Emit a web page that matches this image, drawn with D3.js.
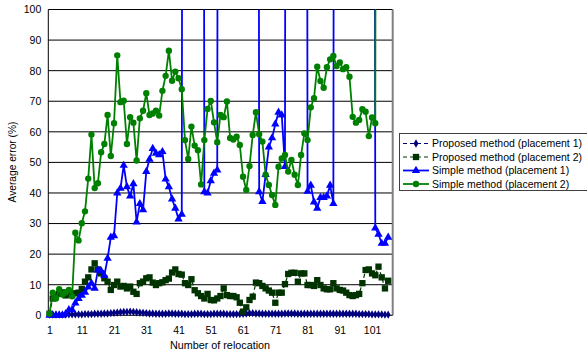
<!DOCTYPE html>
<html>
<head>
<meta charset="utf-8">
<script src="https://cdn.jsdelivr.net/npm/d3@7/dist/d3.min.js"></script>
<style>
  html, body { margin: 0; padding: 0; background: #fff; }
  svg { display: block; }
  text { font-family: "Liberation Sans", Arial, sans-serif; fill: #000; }
</style>
</head>
<body>
<svg id="chart" width="587" height="356"></svg>
<script>
// Relocation numbers 1..106 (categories on the x axis)
const relocations = d3.range(1, 107);

// Average error (%) per relocation. Values far above 100 run off the top of the plot.
const proposedPlacement1 = [
  0.2,0.2,0.2,0.2,0.2,0.2,0.3,0.3,0.3,0.3,
  0.3,0.4,0.4,0.4,0.5,0.5,0.5,0.6,0.6,0.7,
  0.8,0.9,1.0,1.1,1.1,1.2,1.1,1.0,0.9,0.8,
  0.7,0.6,0.6,0.5,0.5,0.5,0.5,0.6,0.6,0.5,
  0.5,0.5,0.4,0.4,0.4,0.5,0.5,0.5,0.4,0.4,
  0.4,0.5,0.5,0.5,0.5,0.4,0.4,0.4,0.4,0.4,
  0.5,0.6,0.7,0.7,0.6,0.6,0.5,0.5,0.5,0.5,
  0.5,0.5,0.5,0.6,0.6,0.6,0.6,0.5,0.5,0.5,
  0.5,0.5,0.5,0.5,0.5,0.5,0.5,0.5,0.5,0.5,
  0.5,0.5,0.5,0.5,0.5,0.5,0.4,0.4,0.4,0.4,
  0.3,0.3,0.3,0.3,0.2,0.2
];
const proposedPlacement2 = [
  0.5,5.5,6.5,7,7.5,6.5,7,6.6,7.2,7.4,
  8.6,11,12.4,15,17,15,13.7,12.1,11,8.3,
  9.9,11,9.4,9.6,8.8,9.4,7.7,7,10.5,11,
  12.1,12.4,10.7,9.9,10.5,10.8,11.5,12,14,15,
  13.5,13.3,10.5,9.9,11.8,8.2,7.2,6.3,5.5,7,
  5,4.9,5.5,6.3,8.8,6.6,6.3,6.3,5.9,4.1,
  1.2,2.6,5,6.1,10.7,10.5,9.6,8.8,8.1,7.4,
  4.1,7.4,7.4,10.2,13.5,13.9,13.9,11,13.7,13.7,
  9.9,9.9,9.6,11.5,9.9,8.8,8.5,8.5,10.5,8.8,
  8.3,8.1,7.4,6.6,6.3,6.6,7,10.5,14.8,15,
  13.7,13.1,15.9,12.4,8.8,11.3
];
const simplePlacement1 = [
  0,0,0,0,0,0.5,1.8,1.8,4,5.5,
  6.5,7.5,9.2,10.5,8.8,14.8,14.5,13,18.6,25.5,
  26,40,41.5,49,42,39,43,30.5,36.5,34.5,
  47,51,54.5,53,52.5,53.5,44.5,42,38,35,
  31.5,33,900,900,900,900,900,900,40.4,40,
  44,46.4,47.5,900,900,900,900,900,900,900,
  900,900,900,900,900,40.4,37.2,46,55,58,
  62.5,66.4,65.5,48.6,900,900,900,900,900,900,
  40.5,42.5,37,35,38.5,38.5,39,42.5,36.5,900,
  900,900,900,900,900,900,900,900,900,900,
  900,28.5,26.5,23.5,23.5,25.5
];
const simplePlacement2 = [
  0.5,7.4,5.5,8.5,6.8,7.5,8.3,6.2,27,24.5,
  30.1,34,44.7,59.1,41.6,43.2,53.3,56,65.5,52.1,
  62.8,85,69.7,70.2,56,64.8,63,50.6,64.4,66.9,
  72.6,65.5,66,66.9,65.3,73.4,78.3,86.5,76.7,79.7,
  77.5,73.9,57.3,51.1,61.7,55.5,54,42.8,57.3,67.5,
  70.1,63.1,56.6,65.5,64.8,69.9,58,57.5,58.4,55.7,
  45.3,41,48.8,59,66.4,59.2,56.8,46,42.6,39.3,
  36.1,48.6,51.3,52.4,47,50.8,46,42.6,52.4,59.5,
  57.3,68,71,81.3,76.6,74.4,81.1,83.7,84.8,81.5,
  82.7,80.5,81.1,78,64.9,63,63.9,67.4,66.6,58.6,
  64.7,62.8,900,900,900,900
];

const xTickLabels = [1, 11, 21, 31, 41, 51, 61, 71, 81, 91, 101];
const yTickLabels = [0, 10, 20, 30, 40, 50, 60, 70, 80, 90, 100];
const seriesNames = [
  "Proposed method (placement 1)",
  "Proposed method (placement 2)",
  "Simple method (placement 1)",
  "Simple method (placement 2)"
];

const seriesValues = [proposedPlacement1, proposedPlacement2, simplePlacement1, simplePlacement2];
const seriesStyle = [
  { color: "#000080", dash: "4,3", width: 1.2, symbol: d3.symbolDiamond, size: 20 },
  { color: "#003300", dash: "4,3", width: 1.2, symbol: d3.symbolSquare, size: 40 },
  { color: "#0000ff", dash: null,  width: 1.8, symbol: d3.symbolTriangle, size: 30 },
  { color: "#008000", dash: null,  width: 1.8, symbol: d3.symbolCircle, size: 32 }
];

const plot = { left: 48.3, right: 392.7, top: 9.5, bottom: 315.3 };

const svg = d3.select("#chart");
svg.append("rect").attr("width", 587).attr("height", 356).attr("fill", "#fff");

const x = d3.scaleLinear().domain([0.62, 107.4]).range([plot.left, plot.right]);
const y = d3.scaleLinear().domain([0, 100]).range([plot.bottom, plot.top]);

svg.append("clipPath").attr("id", "plotClip")
  .append("rect")
  .attr("x", plot.left).attr("y", plot.top)
  .attr("width", plot.right - plot.left).attr("height", plot.bottom - plot.top);

// Horizontal gridlines
svg.append("g").selectAll("line")
  .data(yTickLabels.filter(v => v > 0))
  .join("line")
  .attr("x1", plot.left).attr("x2", plot.right)
  .attr("y1", d => y(d)).attr("y2", d => y(d))
  .attr("stroke", "#000").attr("stroke-width", 1);

// Plot frame
svg.append("line")
  .attr("x1", plot.right).attr("x2", plot.right)
  .attr("y1", plot.top).attr("y2", plot.bottom)
  .attr("stroke", "#808080").attr("stroke-width", 2);
svg.append("line")
  .attr("x1", plot.left).attr("x2", plot.left)
  .attr("y1", plot.top).attr("y2", plot.bottom)
  .attr("stroke", "#000").attr("stroke-width", 1);
svg.append("line")
  .attr("x1", plot.left).attr("x2", plot.right)
  .attr("y1", plot.bottom).attr("y2", plot.bottom)
  .attr("stroke", "#000").attr("stroke-width", 1);

// Axes (labels only)
const yAxis = svg.append("g")
  .attr("transform", `translate(${plot.left},0)`)
  .call(d3.axisLeft(y).tickValues(yTickLabels).tickSize(0).tickPadding(7));
yAxis.select(".domain").remove();
yAxis.selectAll("text").attr("font-size", "10.5px").attr("font-family", "\"Liberation Sans\", Arial, sans-serif").attr("fill", "#000");

const xAxis = svg.append("g")
  .attr("transform", `translate(0,${plot.bottom})`)
  .call(d3.axisBottom(x).tickValues(xTickLabels).tickFormat(d3.format("d")).tickSize(0).tickPadding(11));
xAxis.select(".domain").remove();
xAxis.selectAll("text").attr("font-size", "10.5px").attr("font-family", "\"Liberation Sans\", Arial, sans-serif").attr("fill", "#000");

// Axis titles
svg.append("text")
  .attr("x", 220).attr("y", 349)
  .attr("text-anchor", "middle").attr("font-size", "10.8px")
  .text("Number of relocation");
svg.append("text")
  .attr("transform", "translate(16,162) rotate(-90)")
  .attr("text-anchor", "middle").attr("font-size", "10.2px")
  .text("Average error (%)");

// Series
const line = d3.line().x((d, i) => x(relocations[i])).y(d => y(d));
const seriesG = svg.append("g");
seriesValues.forEach((vals, s) => {
  const st = seriesStyle[s];
  seriesG.append("path")
    .attr("clip-path", "url(#plotClip)")
    .attr("d", line(vals))
    .attr("fill", "none")
    .attr("stroke", st.color)
    .attr("stroke-width", st.width)
    .attr("stroke-dasharray", st.dash)
    .attr("stroke-linejoin", "round");
  const pts = vals.map((v, i) => ({ v, r: relocations[i] })).filter(p => p.v <= 100);
  seriesG.append("g").selectAll("path")
    .data(pts)
    .join("path")
    .attr("transform", p => `translate(${x(p.r)},${y(p.v)})`)
    .attr("d", d3.symbol().type(st.symbol).size(st.size))
    .attr("fill", st.color);
});

// Legend
const lg = { x: 399.5, y: 133.5, w: 190, h: 57 };
const legend = svg.append("g");
legend.append("rect")
  .attr("x", lg.x).attr("y", lg.y).attr("width", lg.w).attr("height", lg.h)
  .attr("fill", "#fff").attr("stroke", "#404040").attr("stroke-width", 1);
seriesNames.forEach((name, s) => {
  const st = seriesStyle[s];
  const cy = lg.y + 10 + s * 13.5;
  legend.append("line")
    .attr("x1", 403).attr("x2", 429).attr("y1", cy).attr("y2", cy)
    .attr("stroke", st.color).attr("stroke-width", st.width)
    .attr("stroke-dasharray", st.dash);
  legend.append("path")
    .attr("transform", `translate(416,${cy})`)
    .attr("d", d3.symbol().type(st.symbol).size(st.size))
    .attr("fill", st.color);
  legend.append("text")
    .attr("x", 432).attr("y", cy).attr("dy", "0.35em")
    .attr("font-size", "10.5px")
    .text(name);
});
</script>
</body>
</html>
